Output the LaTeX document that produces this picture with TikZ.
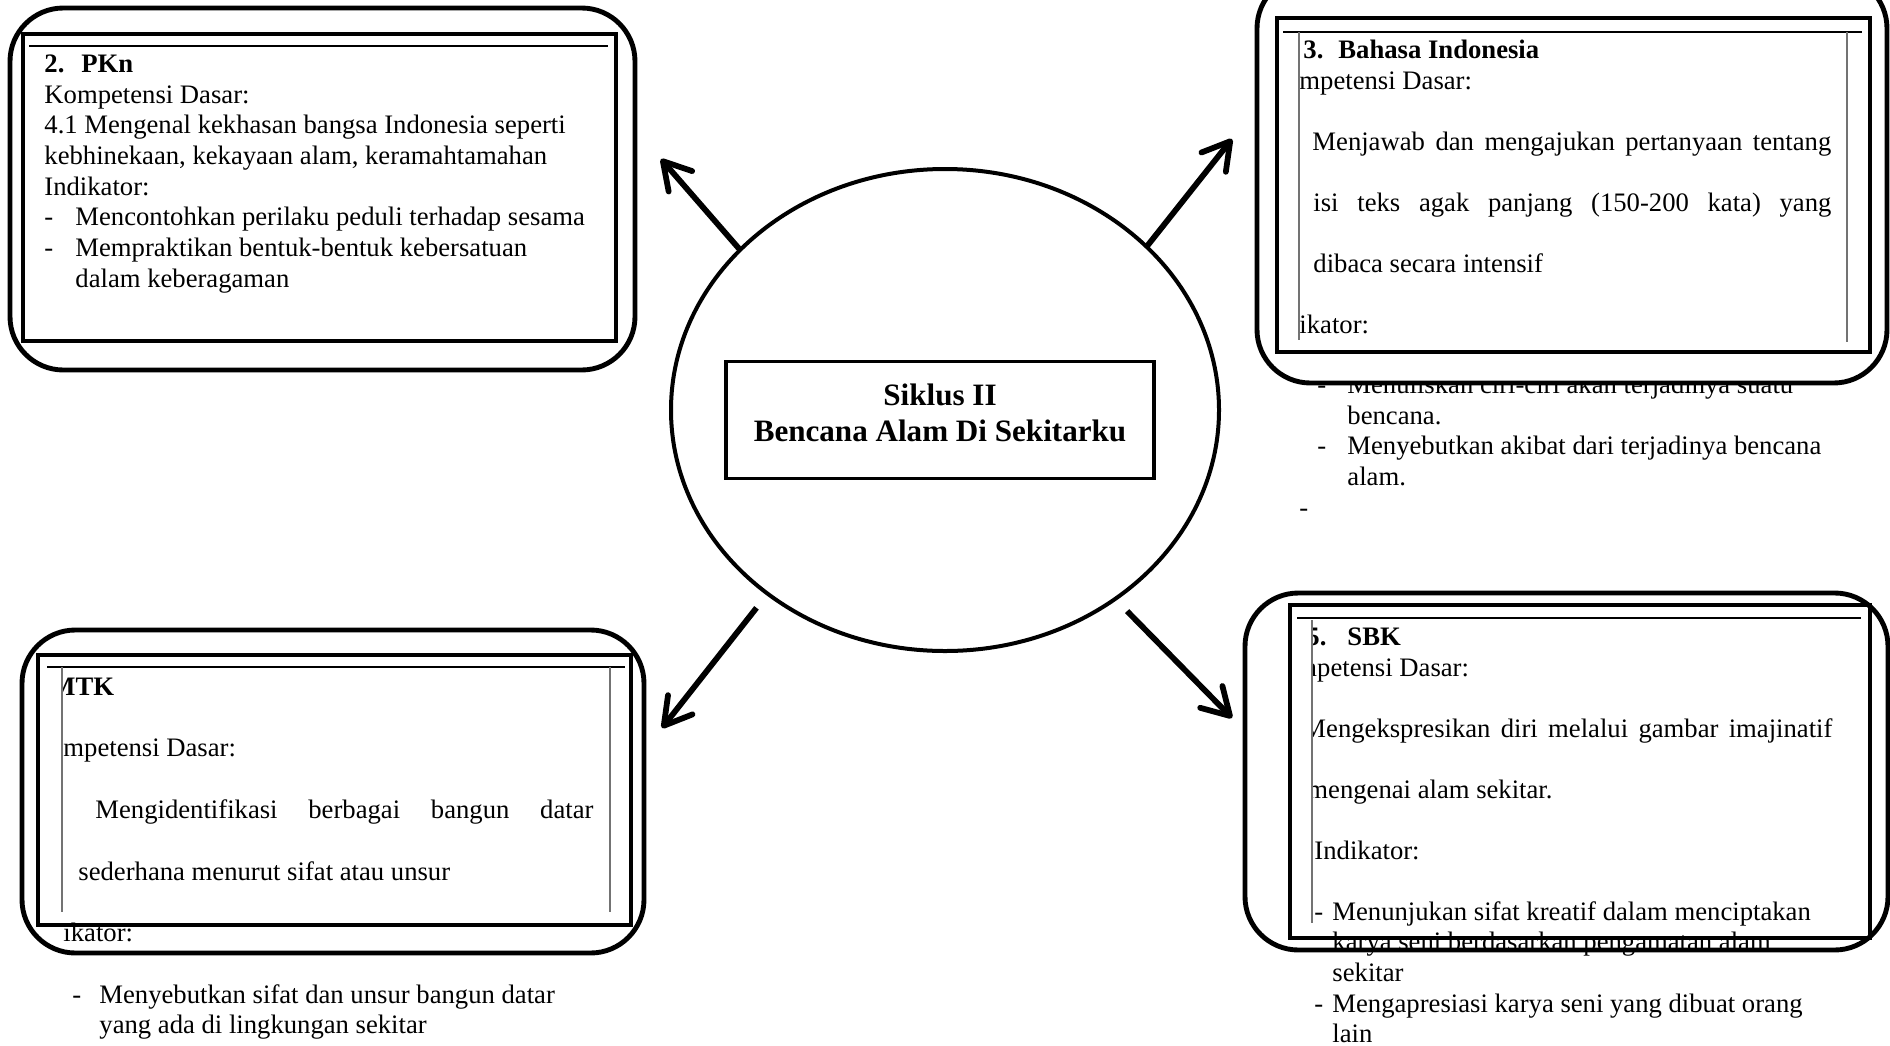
\documentclass[tikz,border=0pt]{standalone}
\usepackage{fontspec}
\setmainfont{Liberation Serif}
\usetikzlibrary{arrows.meta, shapes.geometric}

\tikzset{
    bingkai/.style = {draw, line width=2.2pt, rounded corners=24pt, fill=white},
    kotakdalam/.style = {draw, line width=1.8pt},
    garistipis/.style = {line width=0.8pt},
    garissel/.style = {line width=0.5pt, black!55},
    isi/.style = {anchor=north west, inner sep=0pt, align=left, font=\fontsize{12}{13.8}\selectfont},
    bigoval/.style = {ellipse, draw, line width=1.8pt, minimum width=246.6pt, minimum height=216.9pt, inner sep=0pt, outer sep=0pt},
    judulbox/.style = {draw, line width=1.5pt, minimum width=192.6pt, minimum height=52.6pt, inner sep=0pt},
    panah/.style = {line width=2.6pt, -{Straight Barb[length=12pt, width=14pt, round]}},
}

\begin{document}
\begin{tikzpicture}[x=0.45pt, y=-0.45pt]
    \useasboundingbox (0,0) rectangle (1890,1046);

    % 2. PKn
    \draw [bingkai] (10,8) rectangle (635,370);
    \node (teksPKn) [isi] at (44,50.5) {\strut\textbf{\makebox[16.65pt][l]{2.}PKn}\\
        Kompetensi Dasar:\\
        4.1 Mengenal kekhasan bangsa Indonesia seperti\\
        kebhinekaan, kekayaan alam, keramahtamahan\\
        Indikator:\\
        \makebox[13.95pt][l]{-}Mencontohkan perilaku peduli terhadap sesama\\
        \makebox[13.95pt][l]{-}Mempraktikan bentuk-bentuk kebersatuan\\
        \hspace*{13.95pt}dalam keberagaman};
    \draw [kotakdalam] (23,34) rectangle (616,341);
    \draw [garistipis] (29,46) -- (608,46);

    % 3. Bahasa Indonesia
    \node (lanjutBI) [isi] at (1299,371.5) {\strut\hspace*{8.1pt}\makebox[13.5pt][l]{-}Menuliskan ciri-ciri akan terjadinya suatu\\
        \hspace*{21.6pt}bencana.\\
        \hspace*{8.1pt}\makebox[13.5pt][l]{-}Menyebutkan akibat dari terjadinya bencana\\
        \hspace*{21.6pt}alam.\\
        -};
    \draw [bingkai] (1257,-25) rectangle (1887,383);
    \node (teksBI) [isi] at (1299,36.5) {\strut\hspace*{1.8pt}\textbf{\makebox[15.75pt][l]{3.}Bahasa Indonesia}\\
        mpetensi Dasar:\\[13.65pt]
        \hspace*{5.85pt}\makebox[233.5pt][s]{Menjawab dan mengajukan pertanyaan tentang}\\[13.65pt]
        \hspace*{6.3pt}\makebox[233.1pt][s]{isi teks agak panjang (150-200 kata) yang}\\[13.65pt]
        \hspace*{6.3pt}dibaca secara intensif\\[13.65pt]
        ikator:};
    \draw [kotakdalam] (1277,18) rectangle (1870,352);
    \draw [garistipis] (1283,32) -- (1862,32);
    \draw [garissel] (1299,32) -- (1299,340) (1847,32) -- (1847,342);

    % MTK
    \draw [bingkai] (22,630) rectangle (644,953);
    \begin{scope}
        \clip (62,640) rectangle (700,1046);
        \node (teksMTK) [isi] at (50,673.5) {\strut\textbf{MTK}\\[13.9pt]
            \hspace*{5.85pt}mpetensi Dasar:\\[13.9pt]
            \hspace*{20.25pt}\makebox[224.1pt][s]{Mengidentifikasi berbagai bangun datar}\\[13.9pt]
            \hspace*{12.6pt}sederhana menurut sifat atau unsur\\[13.9pt]
            \hspace*{5.85pt}ikator:\\[13.9pt]
            \hspace*{9.9pt}\makebox[12.15pt][l]{-}Menyebutkan sifat dan unsur bangun datar\\
            \hspace*{22.05pt}yang ada di lingkungan sekitar};
    \end{scope}
    \draw [kotakdalam] (38,655) rectangle (631,925);
    \draw [garistipis] (47,667) -- (625,667);
    \draw [garissel] (62,667) -- (62,912) (610,667) -- (610,912);

    % 5. SBK
    \draw [bingkai] (1245,593) rectangle (1888,950);
    \begin{scope}
        \clip (1312,600) rectangle (1890,1046);
        \node (teksSBK) [isi] at (1296,623.5) {\strut\hspace*{4.5pt}\textbf{\makebox[18.45pt][l]{5.}SBK}\\
            mpetensi Dasar:\\[13.65pt]
            \hspace*{2.7pt}\makebox[238.5pt][s]{Mengekspresikan diri melalui gambar imajinatif}\\[13.65pt]
            \hspace*{4.95pt}mengenai alam sekitar.\\[13.65pt]
            \hspace*{8.1pt}Indikator:\\[13.65pt]
            \hspace*{8.1pt}\makebox[8.1pt][l]{-}Menunjukan sifat kreatif dalam menciptakan\\
            \hspace*{16.2pt}karya seni berdasarkan pengamatan alam\\
            \hspace*{16.2pt}sekitar\\
            \hspace*{8.1pt}\makebox[8.1pt][l]{-}Mengapresiasi karya seni yang dibuat orang\\
            \hspace*{16.2pt}lain};
    \end{scope}
    \draw [kotakdalam] (1290,605) rectangle (1870,938);
    \draw [garistipis] (1297,618) -- (1861,618);
    \draw [garissel] (1312,620) -- (1312,923);

    % tengah
    \node (siklus) [bigoval] at (945,410) {};
    \node (kotak) [judulbox] at (940,420) {};
    \node (judul) [font=\fontsize{14}{16.1}\selectfont\bfseries, align=center] at (940,413) {Siklus II\\Bencana Alam Di Sekitarku};

    \coordinate (ujungPKn) at (661,159);
    \coordinate (ujungBI) at (1232,139);
    \coordinate (ujungMTK) at (662,728);
    \coordinate (ujungSBK) at (1232,718);

    \path [panah]
        (siklus.142) edge (ujungPKn)
        (siklus.39) edge (ujungBI)
        (siklus.226) edge [shorten <=8.1pt] (ujungMTK)
        (siklus.312) edge [shorten <=7.7pt] (ujungSBK);
\end{tikzpicture}
\end{document}
